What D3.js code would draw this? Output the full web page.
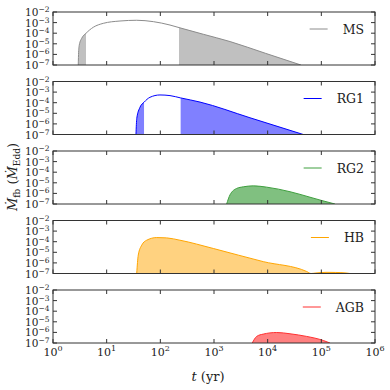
<!DOCTYPE html>
<html>
<head>
<meta charset="utf-8">
<script src="https://cdn.jsdelivr.net/npm/d3@7"></script>
<style>
  body { margin: 0; background: #fff; }
  text { font-family: "DejaVu Serif", serif; fill: #222; }
</style>
</head>
<body>
<svg id="chart" width="390" height="390"></svg>
<script>
// series, top to bottom
const names = ["MS", "RG1", "RG2", "HB", "AGB"];
const lineColors = ["#8c8c8c", "#0000ff", "#3f9f3f", "#ffa500", "#ff3030"];
const fillColors = ["#c0c0c0", "#8080ff", "#80c080", "#ffd280", "#ff8080"];

// curves, as log10(t / yr) and log10(Mdot / Mdot_Edd)
const msLogT  = [0.471, 0.477, 0.490, 0.535, 0.615, 0.751, 0.937, 1.248, 1.56, 1.87, 2.18, 2.348, 2.80, 3.30, 3.96, 4.62];
const msLogM  = [-7, -5.8, -5.11, -4.48, -4.01, -3.44, -3.07, -2.85, -2.78, -2.91, -3.23, -3.47, -4.10, -4.79, -5.90, -7];
const rg1LogT = [1.546, 1.561, 1.621, 1.696, 1.807, 1.993, 2.18, 2.379, 2.739, 3.67, 4.664];
const rg1LogM = [-7, -5.48, -4.43, -3.96, -3.49, -3.27, -3.33, -3.55, -3.94, -5.42, -7];
const rg2LogT = [3.236, 3.298, 3.423, 3.546, 3.732, 3.982, 4.416, 4.789, 5.007, 5.254];
const rg2LogM = [-7, -6.14, -5.53, -5.38, -5.29, -5.41, -5.84, -6.36, -6.67, -7];
const hbLogT  = [1.56, 1.589, 1.653, 1.746, 1.932, 2.118, 2.366, 2.987, 3.918, 4.727, 4.807, 4.90, 5.087, 5.27, 5.46, 5.534];
const hbLogM  = [-7, -5.26, -4.33, -3.86, -3.61, -3.64, -3.86, -4.64, -5.88, -6.81, -7, -6.95, -6.89, -6.90, -6.95, -7];
const agbLogT = [3.713, 3.795, 3.918, 4.168, 4.416, 4.727, 5.036, 5.161];
const agbLogM = [-7, -6.38, -6.16, -6.01, -6.13, -6.38, -6.76, -7];

// shaded time windows (yr)
const msShade  = [[2.96, 4.12], [223, 1e6]];
const rg1Shade = [[35.2, 49.7], [239, 1e6]];
const allShade = [[1, 1e6]];

const logT = [msLogT, rg1LogT, rg2LogT, hbLogT, agbLogT];
const logM = [msLogM, rg1LogM, rg2LogM, hbLogM, agbLogM];
const shades = [msShade, rg1Shade, allShade, allShade, allShade];

const xTickExp = [0, 1, 2, 3, 4, 5, 6];
const yTickExp = [-2, -3, -4, -5, -6, -7];

const left = 53, right = 375, top0 = 12, step = 69.5, ph = 53;
const svg = d3.select("#chart");

const x = d3.scaleLog().domain([1, 1e6]).range([left, right]);

names.forEach((name, i) => {
  const top = top0 + i * step, bottom = top + ph;
  const y = d3.scaleLog().domain([1e-7, 1e-2]).range([bottom, top]);
  const data = logT[i].map((v, k) => ({t: Math.pow(10, v), m: Math.pow(10, logM[i][k])}));
  const g = svg.append("g");

  svg.append("clipPath").attr("id", "clip" + i)
    .append("rect").attr("x", left).attr("y", top).attr("width", right - left).attr("height", ph);
  const shadeClip = svg.append("clipPath").attr("id", "shade" + i);
  shades[i].forEach(r => {
    shadeClip.append("rect")
      .attr("x", x(r[0])).attr("y", top)
      .attr("width", x(r[1]) - x(r[0])).attr("height", ph);
  });

  const area = d3.area().x(d => x(d.t)).y0(bottom).y1(d => y(d.m)).curve(d3.curveMonotoneX);
  const line = d3.line().x(d => x(d.t)).y(d => y(d.m)).curve(d3.curveMonotoneX);

  g.append("g").attr("clip-path", "url(#clip" + i + ")")
    .append("path").datum(data)
    .attr("clip-path", "url(#shade" + i + ")")
    .attr("d", area).attr("fill", fillColors[i]).attr("stroke", "none");
  g.append("path").datum(data)
    .attr("clip-path", "url(#clip" + i + ")")
    .attr("d", line).attr("fill", "none").attr("stroke", lineColors[i]).attr("stroke-width", 1);

  // frame
  g.append("rect").attr("x", left).attr("y", top).attr("width", right - left).attr("height", ph)
    .attr("fill", "none").attr("stroke", "#333").attr("stroke-width", 1);

  // ticks, inward on all sides
  xTickExp.forEach(e => {
    const xx = x(Math.pow(10, e));
    g.append("line").attr("x1", xx).attr("x2", xx).attr("y1", bottom).attr("y2", bottom - 4).attr("stroke", "#333");
    g.append("line").attr("x1", xx).attr("x2", xx).attr("y1", top).attr("y2", top + 4).attr("stroke", "#333");
  });
  yTickExp.forEach(e => {
    const yy = y(Math.pow(10, e));
    g.append("line").attr("x1", left).attr("x2", left + 4).attr("y1", yy).attr("y2", yy).attr("stroke", "#333");
    g.append("line").attr("x1", right).attr("x2", right - 4).attr("y1", yy).attr("y2", yy).attr("stroke", "#333");
    const lab = g.append("text").attr("x", 49.5).attr("y", yy + 4)
      .attr("text-anchor", "end").style("font-size", "10.5px");
    lab.append("tspan").text("10");
    lab.append("tspan").attr("dy", -4).style("font-size", "7.5px").text("\u2212" + Math.abs(e));
  });

  // x tick labels on the bottom panel only
  if (i === names.length - 1) {
    xTickExp.forEach(e => {
      const lab = g.append("text").attr("x", x(Math.pow(10, e))).attr("y", 356)
        .attr("text-anchor", "middle").style("font-size", "11px");
      lab.append("tspan").text("10");
      lab.append("tspan").attr("dy", -5).style("font-size", "8px").text(e);
    });
  }

  // legend
  const ly = top + 17;
  const txt = g.append("text").attr("x", 364).attr("y", ly + 4.5)
    .attr("text-anchor", "end").style("font-size", "12.5px").text(name);
  const tx = 364 - txt.node().getComputedTextLength();
  g.append("line").attr("x1", tx - 33).attr("x2", tx - 15).attr("y1", ly).attr("y2", ly)
    .attr("stroke", lineColors[i]).attr("stroke-width", 1);
});

// axis titles
const xl = svg.append("text").attr("x", 208).attr("y", 380.5)
  .attr("text-anchor", "middle").style("font-size", "13px");
xl.append("tspan").style("font-style", "italic").text("t");
xl.append("tspan").text(" (yr)");

const yl = svg.append("text").attr("transform", "translate(17,177) rotate(-90)")
  .attr("text-anchor", "middle").style("font-size", "13px");
yl.append("tspan").style("font-style", "italic").text("\u1E40");
yl.append("tspan").attr("dy", 3).style("font-size", "9px").text("fb");
yl.append("tspan").attr("dy", -3).text(" (");
yl.append("tspan").style("font-style", "italic").text("\u1E40");
yl.append("tspan").attr("dy", 3).style("font-size", "9px").text("Edd");
yl.append("tspan").attr("dy", -3).text(")");
</script>
</body>
</html>
